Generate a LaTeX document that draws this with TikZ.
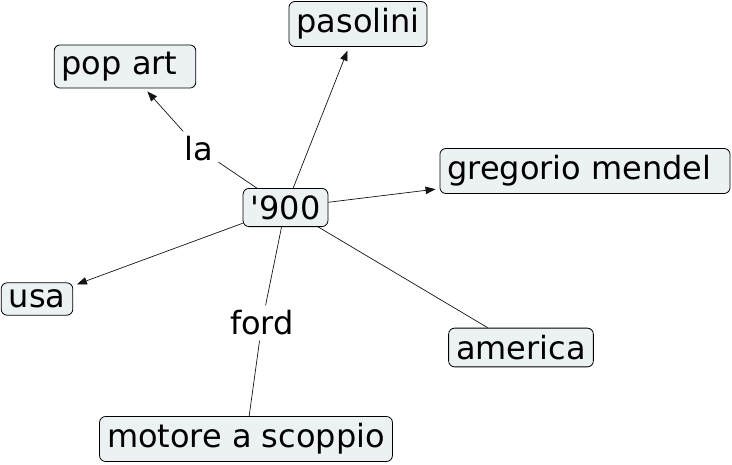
\documentclass[tikz,border=0pt]{standalone}
\usepackage{fontspec}
\setmainfont{DejaVu Sans}
\usetikzlibrary{arrows.meta}
\definecolor{boxfill}{RGB}{236, 242, 244}
\definecolor{linegray}{RGB}{20, 20, 20}

\begin{document}
\begin{tikzpicture}[x=1pt, y=-1pt]
    \tikzstyle{concept} = [rectangle, rounded corners=6pt, draw=black, fill=boxfill,
                           line width=0.8pt, inner xsep=7.5pt, inner ysep=7pt,
                           font=\fontsize{32}{38}\selectfont]
    \tikzstyle{linkword} = [font=\fontsize{32}{38}\selectfont, inner sep=5pt]
    \tikzstyle{arr} = [-{Triangle[length=10pt, width=7.5pt]}, line width=0.7pt,
                       color=linegray, shorten >=4pt]
    \tikzstyle{plain} = [line width=0.7pt, color=linegray]

    \useasboundingbox (0,0) rectangle (732,464);

    \node[concept] (main)     at (285.5,207.5) {\textquotesingle 900};
    \node[concept] (pasolini) at (358,24)      {pasolini};
    \node[concept] (popart)   at (125,66.5)    {pop art\kern11pt};
    \node[concept] (mendel)   at (585,171)     {gregorio mendel\kern11pt};
    \node[concept] (usa)      at (37,299)      {usa};
    \node[concept] (america)  at (521,347.5)   {america};
    \node[concept] (motore)   at (246,439)     {motore a scoppio};

    \node[linkword] (la)   at (199,149) {la};
    \node[linkword] (ford) at (262,323) {ford};

    \draw[arr]   (main) -- (pasolini);
    \draw[plain] (main) -- (la);
    \draw[arr]   (la)   -- (popart);
    \draw[arr]   (main) -- (mendel);
    \draw[arr]   (main) -- (usa);
    \draw[plain] (main) -- (america);
    \draw[plain] (main) -- (ford);
    \draw[plain] (ford) -- (motore);
  \end{tikzpicture}
\end{document}
